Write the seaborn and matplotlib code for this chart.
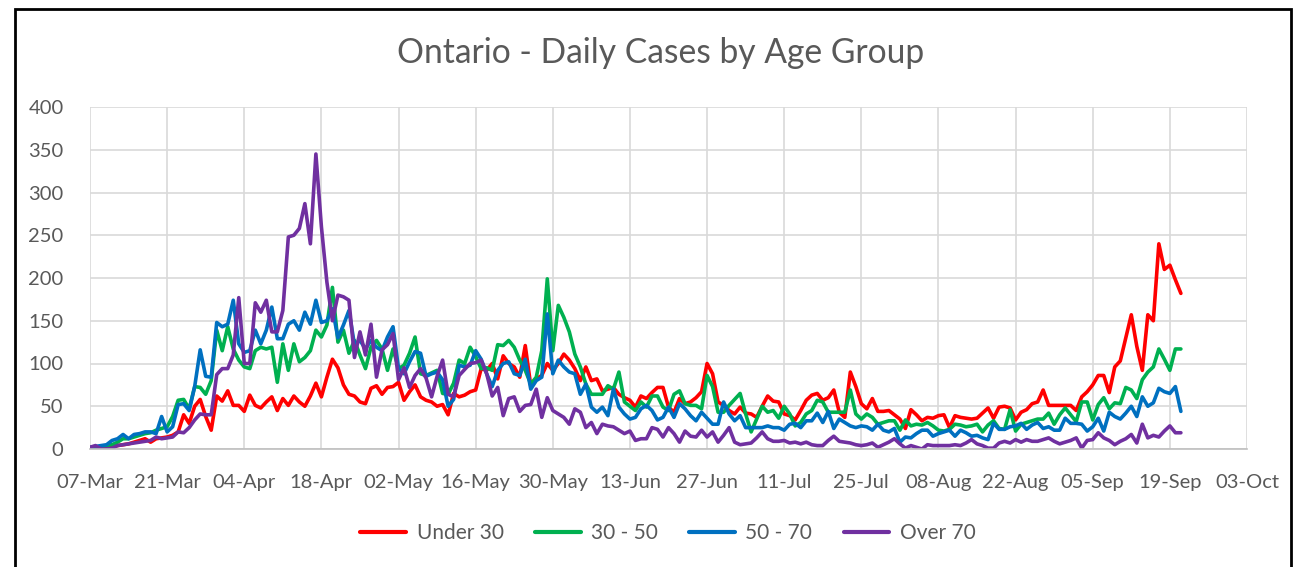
import matplotlib.pyplot as plt
import matplotlib.dates as mdates
from matplotlib.patches import Rectangle
import pandas as pd
import seaborn as sns

# Daily cases, 07-Mar-2020 .. 21-Sep-2020 (one value per day)
start_date = "2020-03-07"

under_30 = [
    0, 1, 1, 2, 3, 4, 5, 6, 8, 10,
    12, 8, 12, 13, 14, 16, 20, 40, 30, 50,
    58, 38, 22, 62, 56, 68, 51, 51, 44, 63,
    51, 48, 55, 61, 45, 59, 51, 62, 55, 50,
    62, 77, 61, 84, 105, 95, 75, 64, 62, 55,
    53, 71, 74, 64, 72, 73, 78, 57, 67, 75,
    61, 57, 55, 50, 52, 40, 65, 61, 63, 67,
    69, 94, 92, 100, 82, 109, 100, 96, 84, 121,
    74, 82, 86, 100, 92, 100, 111, 104, 94, 80,
    96, 80, 82, 68, 70, 72, 64, 60, 57, 49,
    62, 59, 66, 72, 72, 49, 43, 59, 53, 55,
    60, 67, 100, 88, 55, 51, 45, 41, 49, 42,
    41, 37, 50, 62, 56, 55, 41, 39, 34, 45,
    57, 63, 65, 57, 60, 69, 43, 37, 90, 73,
    53, 47, 59, 44, 44, 45, 40, 35, 24, 46,
    40, 33, 37, 36, 39, 40, 25, 39, 37, 36,
    35, 36, 42, 48, 36, 49, 50, 48, 34, 43,
    46, 53, 55, 69, 51, 51, 51, 51, 51, 45,
    61, 67, 75, 86, 86, 66, 96, 103, 130, 157,
    120, 92, 157, 150, 240, 210, 215, 198, 182,
]

age_30_50 = [
    0, 2, 3, 4, 5, 8, 12, 12, 14, 16,
    18, 19, 22, 24, 26, 38, 57, 58, 47, 73,
    72, 64, 80, 139, 115, 143, 117, 104, 96, 94,
    115, 119, 117, 119, 78, 123, 92, 123, 102, 107,
    115, 139, 131, 145, 189, 125, 139, 112, 127, 110,
    94, 119, 127, 117, 92, 117, 94, 98, 112, 131,
    88, 86, 89, 92, 65, 64, 77, 104, 100, 119,
    108, 94, 95, 92, 122, 121, 127, 119, 104, 92,
    76, 84, 115, 199, 115, 168, 154, 137, 111, 96,
    76, 64, 64, 64, 74, 70, 90, 55, 50, 45,
    55, 49, 62, 62, 49, 45, 64, 68, 53, 51,
    51, 47, 86, 73, 43, 43, 51, 58, 65, 41,
    20, 35, 50, 43, 45, 36, 50, 41, 27, 31,
    41, 45, 57, 55, 43, 43, 43, 43, 69, 41,
    35, 41, 37, 29, 31, 33, 33, 22, 34, 27,
    29, 28, 31, 27, 22, 21, 23, 29, 28, 26,
    27, 29, 20, 28, 33, 24, 23, 46, 21, 29,
    31, 33, 35, 35, 42, 29, 40, 48, 40, 32,
    55, 55, 34, 52, 60, 47, 54, 53, 72, 69,
    59, 81, 90, 96, 117, 105, 92, 117, 117,
]

age_50_70 = [
    2, 3, 4, 5, 10, 12, 17, 12, 17, 18,
    20, 20, 18, 38, 20, 26, 52, 53, 45, 73,
    116, 85, 84, 148, 143, 146, 174, 123, 113, 115,
    139, 123, 139, 166, 129, 129, 146, 150, 139, 160,
    146, 174, 148, 150, 164, 130, 145, 162, 122, 127,
    117, 127, 119, 115, 131, 143, 94, 88, 102, 114,
    112, 85, 88, 90, 81, 50, 58, 98, 96, 98,
    115, 105, 88, 73, 92, 100, 102, 88, 86, 105,
    70, 80, 84, 158, 88, 104, 96, 90, 88, 64,
    76, 49, 43, 49, 39, 70, 49, 41, 35, 37,
    47, 51, 45, 34, 37, 49, 37, 53, 47, 39,
    33, 43, 36, 29, 29, 55, 41, 33, 39, 25,
    25, 25, 25, 27, 25, 25, 22, 29, 30, 25,
    33, 33, 42, 31, 44, 24, 35, 31, 27, 25,
    27, 26, 22, 29, 22, 20, 24, 8, 14, 13,
    18, 22, 22, 15, 18, 20, 22, 15, 22, 19,
    15, 16, 13, 11, 30, 23, 23, 26, 27, 30,
    23, 28, 31, 24, 26, 22, 22, 36, 30, 30,
    29, 21, 26, 36, 21, 43, 38, 35, 42, 50,
    38, 61, 50, 54, 71, 67, 65, 73, 44,
]

over_70 = [
    2, 4, 0, 0, 1, 4, 5, 6, 7, 8,
    9, 10, 14, 12, 13, 14, 20, 19, 25, 34,
    41, 40, 40, 87, 94, 94, 110, 177, 100, 100,
    171, 160, 174, 137, 137, 162, 248, 250, 258, 287,
    240, 345, 260, 195, 150, 180, 178, 174, 107, 137,
    110, 146, 84, 116, 122, 135, 81, 95, 72, 86,
    94, 83, 61, 85, 104, 64, 61, 86, 93, 100,
    101, 104, 88, 62, 72, 39, 59, 61, 44, 51,
    52, 70, 37, 60, 45, 41, 37, 29, 47, 43,
    25, 31, 18, 29, 27, 26, 22, 18, 21, 10,
    12, 12, 25, 23, 14, 25, 18, 8, 21, 15,
    14, 22, 14, 20, 8, 16, 25, 8, 5, 6,
    7, 13, 20, 12, 9, 9, 10, 7, 8, 6,
    8, 5, 4, 4, 10, 15, 9, 8, 7, 5,
    4, 5, 7, 2, 5, 8, 12, 6, 1, 4,
    2, 0, 5, 4, 4, 4, 4, 5, 4, 7,
    11, 6, 4, 1, 1, 7, 9, 7, 11, 8,
    11, 9, 9, 11, 13, 9, 6, 8, 10, 13,
    1, 10, 11, 19, 13, 10, 5, 9, 12, 17,
    7, 29, 13, 16, 14, 21, 27, 19, 19,
]

groups = ["Under 30", "30 - 50", "50 - 70", "Over 70"]
colors = ["#FF0000", "#00B050", "#0070C0", "#7030A0"]

# build long-form table for seaborn
dates = pd.date_range(start_date, periods=len(under_30), freq="D")
frames = []
for name, vals in zip(groups, [under_30, age_30_50, age_50_70, over_70]):
    frames.append(pd.DataFrame({"Date": dates, "Cases": vals, "Age Group": name}))
df = pd.concat(frames, ignore_index=True)

sns.set_theme(style="white")
plt.rcParams["font.family"] = ["Lato", "DejaVu Sans"]

text_col = "#595959"
fig = plt.figure(figsize=(12.97, 5.67), dpi=100)
ax = fig.add_axes([90 / 1297, 1 - 449 / 567, (1247 - 90) / 1297, (449 - 107) / 567])

sns.lineplot(
    data=df,
    x="Date",
    y="Cases",
    hue="Age Group",
    hue_order=groups,
    palette=dict(zip(groups, colors)),
    linewidth=2.6,
    ax=ax,
)

ax.set_xlim(pd.Timestamp("2020-03-07"), pd.Timestamp("2020-10-03"))
ax.set_ylim(0, 400)
ax.set_yticks(range(0, 401, 50))
ax.set_xticks(pd.date_range("2020-03-07", "2020-10-03", freq="14D"))
ax.xaxis.set_major_formatter(mdates.DateFormatter("%d-%b"))
ax.set_xlabel("")
ax.set_ylabel("")

ax.grid(True, color="#D9D9D9", linewidth=1.2)
for side in ["top", "right", "left"]:
    ax.spines[side].set_visible(False)
ax.spines["bottom"].set_color("#BFBFBF")
ax.spines["bottom"].set_linewidth(1.2)
ax.tick_params(axis="both", length=0, labelsize=14.5, colors=text_col)
ax.tick_params(axis="y", pad=19)
ax.tick_params(axis="x", pad=18)

fig.text(0.509, 1 - 53 / 567, "Ontario - Daily Cases by Age Group",
         ha="center", va="center", fontsize=24.2, color=text_col)

ax.legend(
    loc="center",
    bbox_to_anchor=(0.515, 1 - 533 / 567),
    bbox_transform=fig.transFigure,
    ncol=4,
    frameon=False,
    fontsize=15,
    handlelength=2.2,
    handletextpad=0.5,
    columnspacing=1.5,
    labelcolor=text_col,
)
for line in ax.get_legend().get_lines():
    line.set_linewidth(3)

# chart border
fig.patches.append(Rectangle((15 / 1297, -0.05), (1291 - 15) / 1297, 1.05 - 9 / 567,
                             transform=fig.transFigure, fill=False,
                             edgecolor="black", linewidth=2))

fig.savefig("out.png", dpi=100)
